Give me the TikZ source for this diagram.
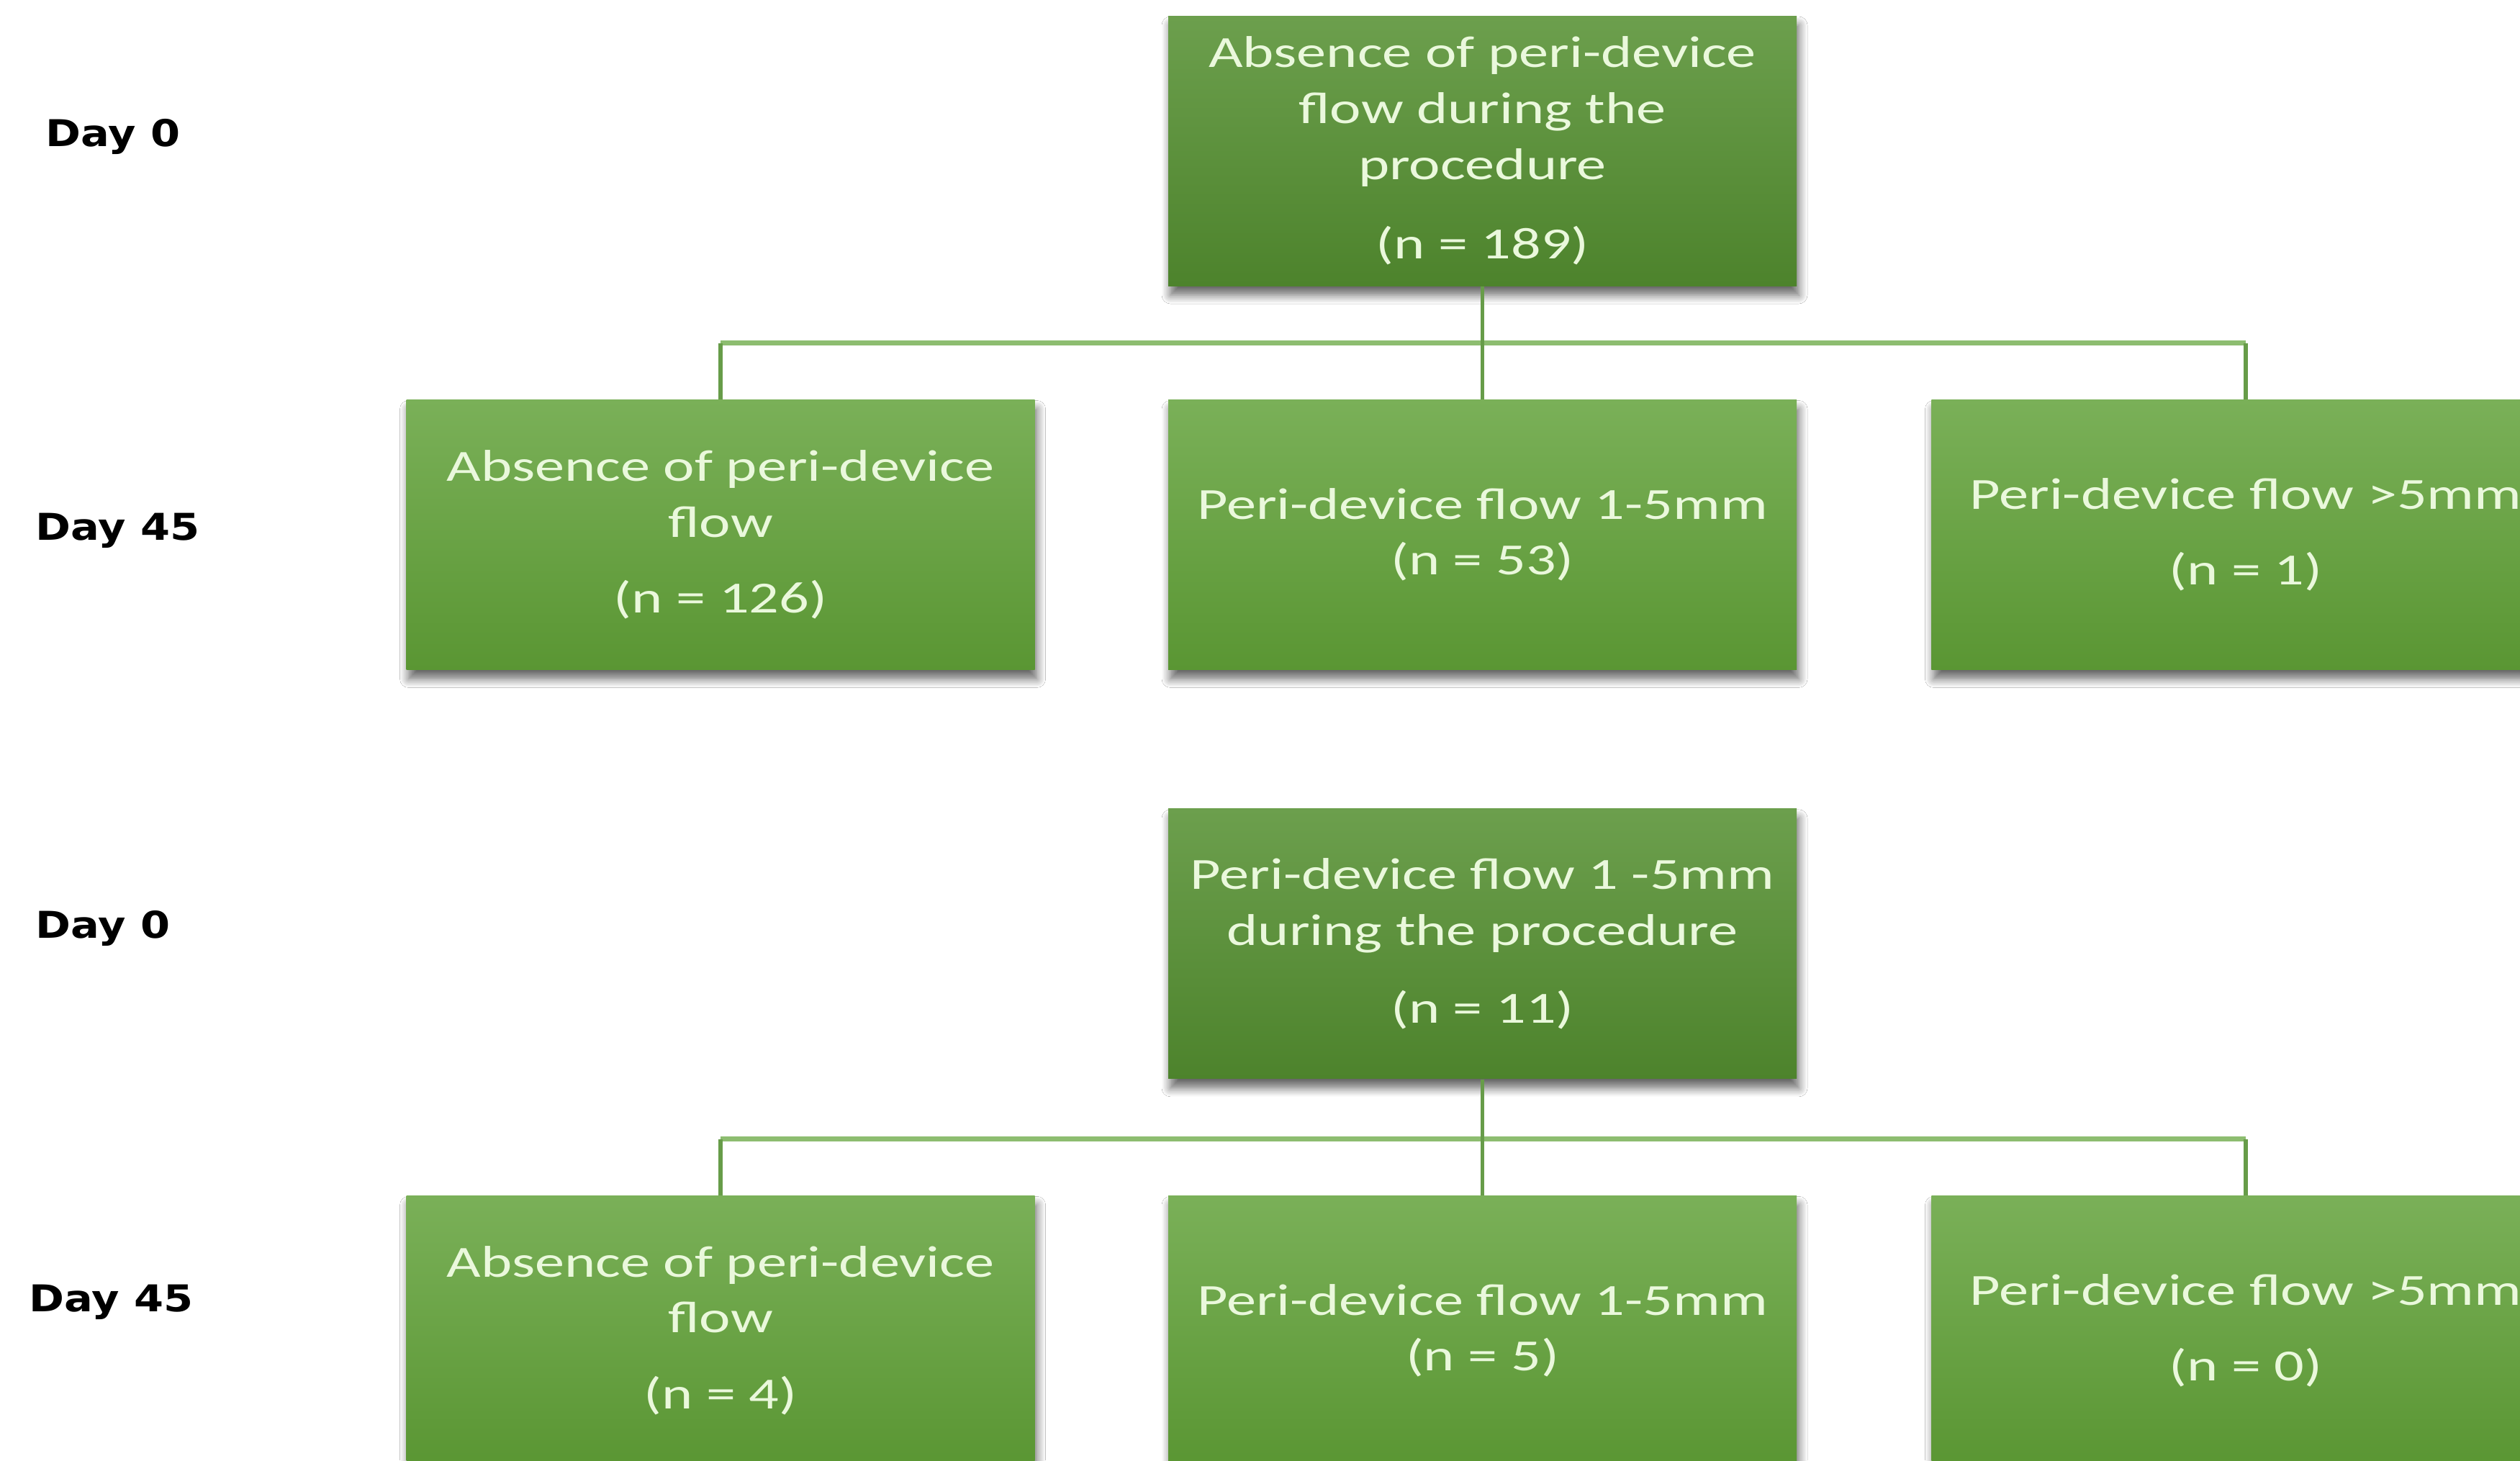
\documentclass[tikz,border=0pt]{standalone}
\usepackage{fontspec}
\usetikzlibrary{positioning,calc,shadows,shadows.blur}
\newfontfamily\boxfont[FakeStretch=1.33]{Carlito}
\newfontfamily\dayfont[FakeStretch=1.15]{DejaVu Sans Bold}
\definecolor{rootTop}{HTML}{6C9F4D}
\definecolor{rootBot}{HTML}{4D832C}
\definecolor{leafTop}{HTML}{7AB058}
\definecolor{leafBot}{HTML}{5A9633}
\definecolor{boxText}{HTML}{EAF8DC}
\definecolor{busGreen}{HTML}{8DBD70}
\definecolor{stemGreen}{HTML}{679C49}

\begin{document}
\begin{tikzpicture}[x=1cm,y=1cm,
  flowbox/.style={rectangle,minimum width=8.73cm,minimum height=3.75cm,inner sep=0pt,
    top color=leafTop,bottom color=leafBot,text=boxText,align=center,
    font=\boxfont\fontsize{17.6}{22.1}\selectfont,
    blur shadow={shadow xshift=0.03cm,shadow yshift=-0.13cm,shadow blur radius=0.12cm,
      shadow blur steps=8,shadow opacity=60}},
  rootbox/.style={flowbox,top color=rootTop,bottom color=rootBot},
  daylabel/.style={anchor=west,inner sep=0pt,font=\dayfont\fontsize{14.6}{17}\selectfont},
  bus/.style={draw=busGreen,line width=0.07cm},
  stem/.style={draw=stemGreen,line width=0.055cm}]
  \useasboundingbox (0,0) rectangle (35.01,-20.29);
  \clip (0,0) rectangle (35.01,-20.29);
  \fill[white] (0,0) rectangle (35.01,-20.29);

  % day labels
  \node[daylabel] (day0a) at (0.63,-1.90) {Day 0};
  \node[daylabel] (day45a) at (0.49,-7.37) {Day 45};
  \node[daylabel] (day0b) at (0.49,-12.90) {Day 0};
  \node[daylabel] (day45b) at (0.40,-18.09) {Day 45};

  % first group
  \node[rootbox] (root1) at (20.595,-2.095) {Absence of peri-device\\flow during the\\procedure\\[0.33cm](n = 189)};
  \node[flowbox,below=1.57cm of root1] (mid1) {Peri-device flow 1-5mm\\(n = 53)};
  \node[flowbox,left=1.84cm of mid1] (none1) {Absence of peri-device\\flow\\[0.28cm](n = 126)};
  \node[flowbox,right=1.86cm of mid1] (big1) {Peri-device flow >5mm\\[0.28cm](n = 1)};

  \coordinate (bus1) at ($(root1.south)+(0,-0.79)$);
  \draw[bus] (none1.north |- bus1) -- (big1.north |- bus1);
  \draw[stem] (root1.south) -- (mid1.north);
  \draw[stem] (none1.north) -- (none1.north |- bus1);
  \draw[stem] (big1.north) -- (big1.north |- bus1);

  % second group
  \node[rootbox,below=1.92cm of mid1] (root2) {Peri-device flow 1 -5mm\\during the procedure\\[0.3cm](n = 11)};
  \node[flowbox,below=1.61cm of root2] (mid2) {Peri-device flow 1-5mm\\(n = 5)};
  \node[flowbox,left=1.84cm of mid2] (none2) {Absence of peri-device\\flow\\[0.28cm](n = 4)};
  \node[flowbox,right=1.86cm of mid2] (big2) {Peri-device flow >5mm\\[0.28cm](n = 0)};

  \coordinate (bus2) at ($(root2.south)+(0,-0.83)$);
  \draw[bus] (none2.north |- bus2) -- (big2.north |- bus2);
  \draw[stem] (root2.south) -- (mid2.north);
  \draw[stem] (none2.north) -- (none2.north |- bus2);
  \draw[stem] (big2.north) -- (big2.north |- bus2);
\end{tikzpicture}
\end{document}
